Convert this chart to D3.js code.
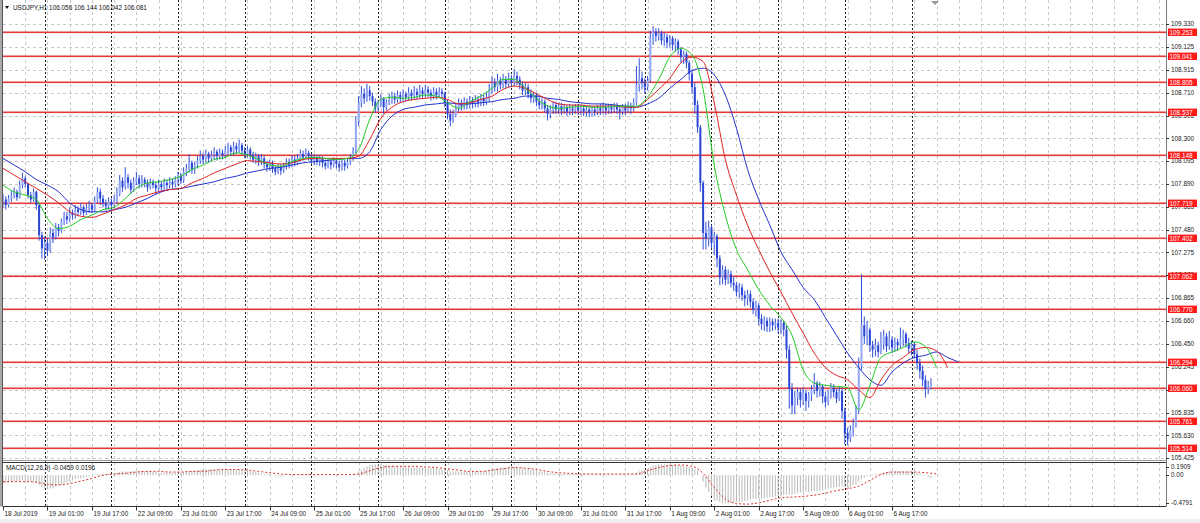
<!DOCTYPE html>
<html><head><meta charset="utf-8">
<script src="https://cdn.jsdelivr.net/npm/d3@7"></script>
<style>html,body{margin:0;padding:0;background:#fff;overflow:hidden}svg{display:block}text{font-family:"Liberation Sans",Arial,sans-serif}</style>
</head><body><svg id="c" width="1200" height="523"></svg>
<script>
// ---------------- DATA ----------------
const symbol = "USDJPY,H1";
const lastOpen = 106.056;
const closes = [
107.75,107.70,107.76,107.79,107.82,107.77,107.88,107.94,107.89,107.79,107.75,107.82,107.70,107.43,107.31,
107.36,107.29,107.45,107.41,107.50,107.47,107.55,107.60,107.57,107.63,107.61,107.66,107.64,107.68,107.63,107.67,107.70,107.66,107.74,107.82,107.76,107.72,107.69,107.73,
107.70,107.74,107.80,107.92,107.86,107.95,107.90,107.84,107.91,107.94,107.89,107.93,107.90,107.86,107.91,107.88,107.85,107.89,107.86,107.90,107.88,107.91,107.89,107.93,
107.96,107.92,108.00,108.03,108.08,108.02,108.06,108.10,108.14,108.11,108.16,108.12,108.15,108.18,108.14,108.17,108.15,108.19,108.22,108.18,108.23,108.20,108.24,108.19,
108.16,108.20,108.15,108.11,108.14,108.09,108.12,108.07,108.04,108.08,108.03,108.00,108.04,108.01,108.05,108.09,108.06,108.11,108.08,108.12,108.16,108.13,108.17,108.14,
108.10,108.13,108.09,108.12,108.08,108.05,108.09,108.06,108.10,108.07,108.04,108.08,108.05,108.09,108.12,108.18,108.45,108.62,108.70,108.66,108.73,108.68,108.63,108.57,
108.61,108.66,108.58,108.62,108.64,108.68,108.65,108.69,108.66,108.70,108.67,108.71,108.68,108.72,108.69,108.73,108.70,108.74,108.71,108.68,108.72,108.69,108.72,108.70,
108.62,108.52,108.46,108.52,108.58,108.62,108.59,108.63,108.60,108.64,108.61,108.65,108.62,108.66,108.63,108.67,108.74,108.80,108.76,108.82,108.78,108.83,108.79,108.84,
108.80,108.86,108.83,108.78,108.73,108.76,108.70,108.66,108.69,108.63,108.60,108.63,108.57,108.52,108.56,108.60,108.56,108.59,108.55,108.58,108.54,108.57,108.55,108.58,
108.55,108.57,108.54,108.56,108.53,108.56,108.54,108.57,108.55,108.58,108.55,108.58,108.56,108.59,108.56,108.54,108.58,108.55,108.59,108.57,108.62,108.78,108.84,108.80,
108.76,108.82,109.20,109.26,109.22,109.25,109.18,109.21,109.16,109.20,109.14,109.17,109.10,109.03,109.06,108.98,108.88,108.76,108.60,108.40,107.90,107.45,107.40,107.50,
107.36,107.42,107.22,107.05,107.12,107.03,107.08,107.00,106.98,106.92,106.96,106.89,106.86,106.90,106.83,106.76,106.80,106.68,106.63,106.66,106.61,106.65,106.62,106.64,
106.60,106.64,106.58,106.40,106.05,105.90,105.97,106.02,105.95,106.01,105.94,105.99,106.04,106.10,106.03,106.07,105.98,105.93,106.00,106.06,106.02,105.96,106.03,105.85,
105.65,105.60,105.68,105.72,105.85,106.25,106.62,106.52,106.58,106.44,106.40,106.44,106.38,106.46,106.52,106.43,106.49,106.42,106.47,106.44,106.50,106.54,106.46,106.41,
106.45,106.36,106.28,106.21,106.13,106.05,106.06,106.081];
const highs = [
107.80,107.78,107.79,107.83,107.86,107.84,107.92,107.99,107.96,107.90,107.82,107.85,107.83,107.72,107.46,
107.42,107.40,107.50,107.49,107.54,107.53,107.58,107.64,107.64,107.68,107.66,107.70,107.69,107.72,107.70,107.71,107.74,107.72,107.78,107.86,107.85,107.79,107.75,107.77,
107.76,107.79,107.86,107.97,107.95,108.04,107.98,107.93,107.95,108.00,107.97,107.97,107.95,107.93,107.94,107.93,107.91,107.93,107.91,107.94,107.93,107.95,107.94,107.96,
108.00,107.99,108.04,108.07,108.16,108.10,108.09,108.14,108.19,108.17,108.20,108.18,108.19,108.22,108.20,108.21,108.20,108.23,108.26,108.24,108.27,108.26,108.29,108.26,
108.22,108.23,108.22,108.18,108.17,108.16,108.16,108.14,108.10,108.11,108.10,108.06,108.07,108.07,108.08,108.12,108.12,108.15,108.14,108.16,108.20,108.19,108.21,108.19,
108.16,108.16,108.15,108.15,108.14,108.11,108.12,108.12,108.13,108.12,108.10,108.11,108.11,108.12,108.16,108.22,108.50,108.68,108.77,108.75,108.79,108.77,108.71,108.66,
108.64,108.70,108.67,108.65,108.70,108.72,108.71,108.73,108.72,108.74,108.72,108.76,108.74,108.77,108.75,108.78,108.76,108.78,108.77,108.74,108.76,108.75,108.76,108.75,
108.72,108.65,108.56,108.56,108.62,108.66,108.65,108.67,108.66,108.68,108.67,108.69,108.68,108.70,108.69,108.72,108.79,108.86,108.84,108.88,108.85,108.88,108.86,108.89,
108.87,108.92,108.90,108.86,108.81,108.80,108.79,108.74,108.72,108.71,108.67,108.66,108.65,108.60,108.60,108.63,108.63,108.62,108.62,108.61,108.60,108.61,108.60,108.61,
108.61,108.60,108.60,108.59,108.59,108.59,108.59,108.60,108.61,108.62,108.61,108.61,108.61,108.62,108.62,108.60,108.61,108.61,108.63,108.62,108.66,108.95,109.02,108.90,
108.84,108.86,109.27,109.31,109.29,109.29,109.27,109.25,109.24,109.23,109.22,109.20,109.19,109.12,109.09,109.08,109.00,108.92,108.80,108.64,108.42,107.92,107.55,107.56,
107.52,107.46,107.44,107.25,107.16,107.15,107.12,107.11,107.06,107.01,107.00,106.99,106.93,106.94,106.93,106.86,106.84,106.82,106.72,106.70,106.69,106.69,106.68,106.68,
106.68,106.67,106.66,106.62,106.44,106.10,106.03,106.06,106.05,106.06,106.04,106.02,106.08,106.19,106.12,106.11,106.09,106.02,106.04,106.10,106.09,106.05,106.07,106.06,
105.88,105.70,105.72,105.78,105.90,106.33,107.08,106.70,106.66,106.60,106.48,106.50,106.47,106.56,106.58,106.55,106.57,106.52,106.51,106.50,106.60,106.58,106.56,106.51,
106.48,106.47,106.40,106.32,106.26,106.17,106.12,106.144];
const lows = [
107.68,107.66,107.68,107.73,107.76,107.74,107.76,107.85,107.86,107.76,107.72,107.73,107.66,107.38,107.22,
107.21,107.24,107.27,107.36,107.39,107.42,107.45,107.52,107.53,107.55,107.57,107.58,107.60,107.61,107.60,107.61,107.63,107.63,107.64,107.72,107.70,107.68,107.65,107.66,
107.64,107.67,107.71,107.78,107.82,107.84,107.85,107.80,107.82,107.88,107.85,107.86,107.86,107.82,107.84,107.85,107.80,107.82,107.82,107.83,107.84,107.85,107.85,107.86,
107.88,107.89,107.90,107.96,107.99,107.98,107.98,108.03,108.07,108.07,108.08,108.08,108.09,108.11,108.10,108.11,108.11,108.12,108.15,108.14,108.15,108.16,108.17,108.15,
108.12,108.13,108.11,108.08,108.07,108.05,108.06,108.03,108.00,108.01,107.99,107.97,107.98,107.97,107.99,108.02,108.03,108.04,108.05,108.06,108.09,108.10,108.11,108.10,
108.07,108.06,108.06,108.05,108.04,108.02,108.03,108.02,108.04,108.03,108.00,108.01,108.01,108.03,108.06,108.10,108.16,108.41,108.58,108.61,108.63,108.64,108.59,108.53,
108.54,108.58,108.52,108.55,108.60,108.61,108.61,108.62,108.62,108.63,108.63,108.64,108.64,108.65,108.65,108.66,108.66,108.67,108.67,108.64,108.65,108.65,108.66,108.66,
108.58,108.47,108.41,108.44,108.49,108.54,108.55,108.56,108.56,108.57,108.57,108.58,108.58,108.59,108.59,108.60,108.63,108.70,108.72,108.72,108.74,108.75,108.75,108.76,
108.76,108.77,108.78,108.74,108.69,108.69,108.66,108.62,108.62,108.59,108.56,108.56,108.53,108.46,108.48,108.52,108.52,108.52,108.51,108.52,108.50,108.51,108.51,108.52,
108.51,108.51,108.50,108.50,108.49,108.50,108.50,108.51,108.51,108.52,108.51,108.52,108.52,108.53,108.52,108.47,108.51,108.51,108.53,108.52,108.54,108.60,108.72,108.74,
108.70,108.73,108.80,109.14,109.17,109.18,109.14,109.13,109.11,109.12,109.09,109.08,109.05,108.98,108.97,108.93,108.82,108.70,108.52,108.35,107.82,107.30,107.30,107.33,
107.31,107.25,107.14,106.98,106.99,106.98,106.99,106.96,106.93,106.88,106.86,106.84,106.79,106.80,106.78,106.72,106.70,106.62,106.58,106.57,106.56,106.56,106.57,106.58,
106.55,106.54,106.52,106.32,105.87,105.82,105.82,105.90,105.88,105.90,105.85,105.88,105.94,106.00,105.97,105.98,105.92,105.88,105.90,105.96,105.97,105.92,105.94,105.78,
105.55,105.54,105.57,105.62,105.70,105.82,106.22,106.45,106.44,106.38,106.33,106.34,106.33,106.36,106.40,106.38,106.40,106.37,106.38,106.39,106.41,106.43,106.42,106.37,
106.35,106.32,106.22,106.14,106.07,105.97,106.00,106.042];

// Alligator lines, read every 4 bars (index = 4*k)
const jaw = [108.12,108.06,108.00,107.93,107.88,107.82,107.72,107.66,107.64,107.64,
107.66,107.68,107.72,107.76,107.81,107.84,107.85,107.87,107.89,107.91,
107.94,107.96,107.99,108.01,108.03,108.04,108.06,108.08,108.09,108.10,
108.11,108.12,108.12,108.18,108.38,108.50,108.56,108.58,108.60,108.61,
108.62,108.61,108.61,108.62,108.63,108.65,108.66,108.68,108.68,108.66,
108.65,108.63,108.62,108.61,108.61,108.60,108.59,108.58,108.61,108.66,
108.75,108.83,108.91,108.93,108.87,108.69,108.39,108.02,107.75,107.52,
107.28,107.12,106.96,106.85,106.69,106.53,106.37,106.24,106.13,106.08,
106.20,106.28,106.33,106.35,106.38,106.33,106.29];
const teeth = [108.03,107.97,107.91,107.85,107.79,107.72,107.64,107.60,107.59,107.62,
107.66,107.70,107.76,107.79,107.82,107.84,107.85,107.90,107.94,107.99,
108.03,108.07,108.10,108.09,108.08,108.07,108.08,108.11,108.12,108.12,
108.12,108.12,108.14,108.29,108.48,108.58,108.63,108.65,108.66,108.67,
108.65,108.61,108.62,108.65,108.68,108.74,108.77,108.75,108.70,108.65,
108.61,108.60,108.60,108.59,108.59,108.59,108.58,108.58,108.65,108.74,
108.84,108.98,109.03,108.99,108.62,108.11,107.79,107.52,107.30,107.10,
106.92,106.73,106.55,106.37,106.24,106.17,106.13,106.04,105.97,106.13,
106.26,106.33,106.40,106.42,106.39,106.24];
const lips = [107.88,107.82,107.79,107.75,107.58,107.49,107.51,107.57,107.61,107.66,
107.68,107.76,107.85,107.90,107.91,107.93,107.96,108.02,108.06,108.11,
108.13,108.17,108.15,108.11,108.06,108.05,108.09,108.12,108.13,108.12,
108.11,108.12,108.20,108.47,108.65,108.67,108.66,108.67,108.69,108.68,
108.62,108.57,108.63,108.68,108.75,108.83,108.83,108.75,108.66,108.59,
108.57,108.58,108.59,108.58,108.58,108.59,108.59,108.59,108.67,108.83,
109.03,109.11,109.05,108.74,108.06,107.61,107.30,107.12,106.94,106.80,
106.69,106.53,106.22,106.10,106.08,106.07,106.06,105.86,106.08,106.33,
106.38,106.42,106.47,106.43,106.24];

// MACD main (histogram, one per bar) and signal (every 4 bars)
const macdMain = [
-0.12,-0.12,-0.11,-0.11,-0.10,-0.10,-0.09,-0.08,-0.08,-0.09,-0.10,-0.10,-0.12,-0.15,
-0.19,-0.21,-0.22,-0.21,-0.20,-0.18,-0.16,-0.15,-0.13,-0.11,-0.09,-0.08,-0.06,-0.05,-0.05,-0.04,
-0.03,-0.02,0.00,0.01,0.02,0.02,0.02,0.02,0.02,0.02,0.03,0.04,0.05,0.06,0.06,0.06,
0.06,0.06,0.06,0.06,0.06,0.06,0.06,0.06,0.05,0.05,0.04,0.04,0.04,0.04,0.04,0.04,0.04,0.04,0.04,0.05,
0.06,0.06,0.07,0.07,0.08,0.09,0.09,0.09,0.09,0.09,0.09,0.09,0.09,0.09,0.09,0.09,0.09,0.09,0.09,0.09,0.08,0.08,0.07,0.06,0.06,
0.05,0.04,0.03,0.02,0.02,0.01,0.00,-0.02,-0.02,-0.02,-0.02,0.00,0.00,0.00,0.01,0.01,0.02,0.02,0.02,0.02,0.02,0.01,0.01,0.01,0.01,0.00,0.00,0.00,0.00,0.00,
0.00,0.00,0.00,0.00,0.00,0.01,0.02,
0.06,0.09,0.11,0.14,0.15,0.16,0.17,0.17,0.17,0.16,0.16,0.15,0.15,
0.14,0.14,0.14,0.14,0.13,0.13,0.12,0.12,0.12,0.12,0.12,0.12,0.11,0.11,0.11,0.11,0.10,0.10,0.09,0.08,
0.06,0.06,0.06,0.06,0.06,0.06,0.06,0.06,0.06,0.06,0.06,0.06,0.06,0.07,0.08,0.10,0.10,0.11,0.12,0.12,
0.13,0.13,0.13,0.13,0.13,0.12,0.11,0.10,0.10,0.09,0.08,0.07,0.06,0.06,0.05,0.04,0.03,0.03,0.03,0.03,
0.02,0.02,0.02,0.02,0.02,0.02,0.02,0.02,0.02,0.02,0.02,0.02,0.02,0.02,0.02,0.02,0.02,0.02,0.02,0.02,0.02,0.02,0.02,0.02,0.02,0.02,0.02,
0.04,0.06,0.08,0.09,0.10,0.13,0.15,0.16,0.17,0.17,0.17,0.17,0.17,0.16,0.16,0.15,0.15,0.14,0.14,0.13,0.11,0.10,0.07,
0.00,-0.10,-0.19,-0.26,-0.32,-0.36,-0.40,-0.42,-0.44,-0.44,-0.44,-0.43,-0.43,-0.42,-0.42,-0.41,-0.40,-0.39,-0.38,-0.37,
-0.37,-0.36,-0.36,-0.35,-0.35,-0.34,-0.34,-0.33,-0.33,-0.33,-0.31,-0.30,-0.30,-0.30,-0.29,-0.28,-0.27,-0.27,-0.26,-0.26,
-0.25,-0.25,-0.24,-0.24,-0.23,-0.22,-0.21,-0.20,-0.19,-0.18,-0.18,-0.17,-0.18,-0.19,-0.18,-0.16,-0.14,-0.10,-0.06,-0.04,
-0.02,0.00,0.01,0.02,0.02,0.03,0.04,0.05,0.06,0.06,0.06,0.06,0.06,0.06,0.06,0.06,0.05,0.05,0.04,0.02,0.01,-0.01,-0.03,-0.0459];
const macdSignal = [-0.10,-0.10,-0.10,-0.11,-0.14,-0.15,-0.13,-0.09,-0.05,0.00,
0.02,0.03,0.05,0.06,0.06,0.05,0.05,0.06,0.06,0.08,
0.09,0.09,0.08,0.06,0.04,0.02,0.01,0.01,0.01,0.01,
0.01,0.01,0.02,0.07,0.12,0.14,0.14,0.14,0.13,0.12,
0.10,0.08,0.06,0.06,0.08,0.10,0.12,0.11,0.09,0.06,
0.04,0.03,0.02,0.02,0.02,0.02,0.02,0.02,0.07,0.12,
0.15,0.16,0.14,0.03,-0.19,-0.37,-0.44,-0.45,-0.43,-0.39,
-0.35,-0.34,-0.33,-0.31,-0.28,-0.24,-0.21,-0.17,-0.08,0.01,
0.05,0.05,0.05,0.04,0.02];
const macdTitle = "MACD(12,26,9) -0.0459 0.0196";
const macdTicks = ["0.1909", "0.00", "-0.4791"];

const levels = [109.253,109.041,108.805,108.537,108.148,107.719,107.402,107.062,106.770,106.294,106.060,105.761,105.514];
const priceTicks = ["109.330","109.125","108.915","108.710","108.505","108.300","108.095","107.890","107.685","107.480",
"107.275","107.070","106.865","106.660","106.450","106.245","106.040","105.835","105.630","105.425"];
const timeLabels = ["18 Jul 2019","19 Jul 01:00","19 Jul 17:00","22 Jul 09:00","23 Jul 01:00","23 Jul 17:00","24 Jul 09:00",
"25 Jul 01:00","25 Jul 17:00","26 Jul 09:00","29 Jul 01:00","29 Jul 17:00","30 Jul 09:00","31 Jul 01:00","31 Jul 17:00",
"1 Aug 09:00","2 Aug 01:00","2 Aug 17:00","5 Aug 09:00","6 Aug 01:00","6 Aug 17:00"];
const labelStep = 16;       // bars between time labels
const gridStep = 8;         // bars between light grid lines
const dayStarts = [15,39,63,87,111,135,159,183,207,231,255,279,303,327]; // bar index of 00:00

// ---------------- LAYOUT ----------------
const L = 3, R = 1166, mainTop = 0, mainBot = 460.5, macdTop = 463, macdBot = 506.5;
const svg = d3.select("#c");
const x = d3.scaleLinear().domain([0, 418.6]).range([L, R]);
const y = d3.scaleLinear().domain([105.425, 109.330]).range([458.2, 23.8]);
const m = d3.scaleLinear().domain([-0.4791, 0.1909]).range([506, 463]);
const FS = 6.4;
const snap = v => Math.round(v) + 0.5;

svg.append("rect").attr("width",1200).attr("height",523).attr("fill","#fff");
svg.append("rect").attr("x",0).attr("y",519).attr("width",1200).attr("height",4).attr("fill","#f0f0f0");

const defs = svg.append("defs");
defs.append("clipPath").attr("id","cm").append("rect").attr("x",L).attr("y",mainTop).attr("width",R-L).attr("height",mainBot-mainTop);
defs.append("clipPath").attr("id","cd").append("rect").attr("x",L).attr("y",macdTop).attr("width",R-L).attr("height",macdBot-macdTop);

// grid
const g = svg.append("g");
const nGrid = Math.floor(x.invert(R)/gridStep);
for (let k=1;k<=nGrid;k++){
  const gx = snap(x(k*gridStep));
  g.append("line").attr("x1",gx).attr("x2",gx).attr("y1",0).attr("y2",macdBot)
   .attr("stroke","#c8c8c8").attr("stroke-dasharray","3,3");
}
priceTicks.forEach(t=>{
  const gy = snap(y(+t));
  g.append("line").attr("x1",L).attr("x2",R).attr("y1",gy).attr("y2",gy)
   .attr("stroke","#c8c8c8").attr("stroke-dasharray","3,3");
});
dayStarts.forEach(i=>{
  const gx = snap(x(i));
  g.append("line").attr("x1",gx).attr("x2",gx).attr("y1",0).attr("y2",macdBot)
   .attr("stroke","#222").attr("stroke-dasharray","2,2");
});

// level lines
const main = svg.append("g").attr("clip-path","url(#cm)");
levels.forEach(v=>{
  const ly = Math.round(y(v));
  main.append("rect").attr("x",L).attr("width",R-L).attr("y",ly-0.5).attr("height",1.6)
   .attr("fill","#e8393a");
});

// candles
const bars = closes.map((c,i)=>({i, o: i===closes.length-1 ? lastOpen : (i===0 ? c : closes[i-1]), h: highs[i], l: lows[i], c}));
const cg = main.append("g");
cg.selectAll("line").data(bars).join("line")
  .attr("x1",d=>x(d.i)).attr("x2",d=>x(d.i)).attr("y1",d=>y(d.h)).attr("y2",d=>y(d.l))
  .attr("stroke","#3150d8").attr("stroke-width",1);
cg.selectAll("rect").data(bars).join("rect")
  .attr("x",d=>x(d.i)-1).attr("width",2)
  .attr("y",d=>Math.min(y(d.o),y(d.c)))
  .attr("height",d=>Math.max(1,Math.abs(y(d.o)-y(d.c))))
  .attr("fill",d=>d.c>=d.o?"#94a9f4":"#2a46d4");

// alligator
const line = d3.line().x((d,k)=>x(k*4)).y(d=>y(d)).curve(d3.curveMonotoneX);
main.append("path").attr("d",line(jaw)).attr("fill","none").attr("stroke","#2233cc").attr("stroke-width",1);
main.append("path").attr("d",line(teeth)).attr("fill","none").attr("stroke","#e02222").attr("stroke-width",1);
main.append("path").attr("d",line(lips)).attr("fill","none").attr("stroke","#22cc22").attr("stroke-width",1);

// MACD panel
const md = svg.append("g").attr("clip-path","url(#cd)");
md.selectAll("line").data(macdMain).join("line")
  .attr("x1",(d,i)=>x(i)).attr("x2",(d,i)=>x(i)).attr("y1",m(0)).attr("y2",d=>m(d))
  .attr("stroke","#b9b9b9").attr("stroke-width",1);
const sline = d3.line().x((d,k)=>x(k*4)).y(d=>m(d)).curve(d3.curveMonotoneX);
md.append("path").attr("d",sline(macdSignal)).attr("fill","none").attr("stroke","#e03030")
  .attr("stroke-width",1).attr("stroke-dasharray","2,2");

// frames
svg.append("rect").attr("x",0).attr("y",0).attr("width",2.5).attr("height",macdBot).attr("fill","#a8a8a8");
svg.append("line").attr("x1",2.5).attr("x2",2.5).attr("y1",0).attr("y2",macdBot).attr("stroke","#555");
svg.append("line").attr("x1",R+0.5).attr("x2",R+0.5).attr("y1",0).attr("y2",macdBot).attr("stroke","#7a7a7a");
svg.append("line").attr("x1",L).attr("x2",R).attr("y1",460.5).attr("y2",460.5).attr("stroke","#9a9a9a");
svg.append("line").attr("x1",L).attr("x2",R).attr("y1",462.5).attr("y2",462.5).attr("stroke","#303030");
svg.append("line").attr("x1",L).attr("x2",R).attr("y1",macdBot).attr("y2",macdBot).attr("stroke","#303030");

// right price axis (level tags are drawn on top of the tick labels, as in the platform)
const ax = svg.append("g");
priceTicks.forEach(t=>{
  const ty = y(+t);
  ax.append("line").attr("x1",R).attr("x2",R+3).attr("y1",snap(ty)).attr("y2",snap(ty)).attr("stroke","#333");
  ax.append("text").attr("x",R+5).attr("y",ty).attr("dy","0.35em").attr("font-size",FS).attr("fill","#1a1a1a").text(t);
});
levels.forEach(v=>{
  const ty = Math.round(y(v))+0.3;
  ax.append("rect").attr("x",R+2).attr("y",ty-3.7).attr("width",29).attr("height",7.4).attr("fill","#ff1a1a");
  ax.append("text").attr("x",R+3.5).attr("y",ty).attr("dy","0.35em").attr("font-size",FS).attr("fill","#fff").text(v.toFixed(3));
});
// MACD axis labels
const macdTickPos = [466.8, m(0), 502.8];
macdTicks.forEach((t,k)=>{
  ax.append("text").attr("x",R+5).attr("y",macdTickPos[k]).attr("dy","0.35em").attr("font-size",FS).attr("fill","#1a1a1a").text(t);
  ax.append("line").attr("x1",R).attr("x2",R+3).attr("y1",snap(macdTickPos[k])).attr("y2",snap(macdTickPos[k])).attr("stroke","#333");
});

// time axis
timeLabels.forEach((t,k)=>{
  const tx = x(k*labelStep);
  ax.append("line").attr("x1",snap(tx)).attr("x2",snap(tx)).attr("y1",macdBot).attr("y2",macdBot+4).attr("stroke","#333");
  ax.append("text").attr("x",tx+1.5).attr("y",515.5).attr("font-size",FS).attr("fill","#1a1a1a").text(t);
});

// header
const last = bars[bars.length-1];
svg.append("path").attr("d","M5,6 L9,6 L7,9 Z").attr("fill","#111");
svg.append("text").attr("x",13).attr("y",10).attr("font-size",FS).attr("fill","#111")
  .text(symbol+"  "+[last.o,last.h,last.l,last.c].map(v=>v.toFixed(3)).join(" "));
svg.append("text").attr("x",6).attr("y",470).attr("font-size",FS).attr("fill","#111").text(macdTitle);
// chart shift marker
svg.append("path").attr("d","M931,1 L939,1 L935,5 Z").attr("fill","#9a9a9a");
</script></body></html>
